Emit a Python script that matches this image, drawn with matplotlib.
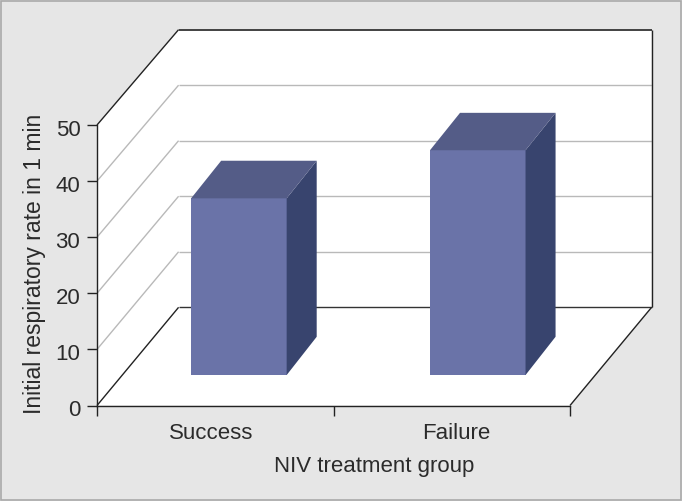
import matplotlib
matplotlib.use("Agg")
import matplotlib.pyplot as plt
from matplotlib.patches import Polygon, Rectangle
from matplotlib.transforms import ScaledTranslation

categories = ["Success", "Failure"]
values = [31.6, 40.2]
y_ticks = [0, 10, 20, 30, 40, 50]

# depth of the fake 3d box, in data units
wall_dx = 0.345
wall_dy = 17.5
wall_shrink = 0.01
bar_width = 0.404
bar_start = 0.31
bar_depth = 0.39
bar_depth_x = 0.127
bar_centers = [0.493, 1.503]
label_pos = [0.484, 1.518]

plt.rcParams['font.family'] = ['Liberation Sans', 'DejaVu Sans']
text_col = '#2b2b2b'
line_col = '#222222'
grid_col = '#b9b9b9'


def pt(x, y, d):
    return (x + d * wall_dx, y + d * wall_dy - y * d * wall_shrink)


def poly(ax, pts, col, z):
    ax.add_patch(Polygon(pts, closed=True, facecolor=col, edgecolor='none', clip_on=False, zorder=z))


def seg(ax, p1, p2, col, lw, z):
    ax.plot([p1[0], p2[0]], [p1[1], p2[1]], color=col, lw=lw, clip_on=False, zorder=z, solid_capstyle='butt')


fig = plt.figure(figsize=(6.82, 5.02), dpi=100, facecolor='#e6e6e6')
fig.add_artist(Rectangle((0.001, 0.002), 0.997, 0.994, transform=fig.transFigure,
                         facecolor='none', edgecolor='#a9a9a9', lw=1.2))

ax = fig.add_axes([97 / 682, 1 - 406.5 / 502, (570 - 97) / 682, (406.5 - 126) / 502])
ax.set_xlim(0, 2)
ax.set_ylim(0, 50)
ax.patch.set_alpha(0)

xmax = 2
ymax = 50
# floor and walls as one shape so no seam shows
poly(ax, [pt(0, 0, 0), pt(xmax, 0, 0), pt(xmax, 0, 1), pt(xmax, ymax, 1), pt(0, ymax, 1), pt(0, ymax, 0)], 'white', 1)

for v in y_ticks[1:-1]:
    seg(ax, pt(0, v, 0), pt(0, v, 1), grid_col, 1.0, 2)
    seg(ax, pt(0, v, 1), pt(xmax, v, 1), grid_col, 1.0, 2)

seg(ax, pt(0, 0, 0), pt(0, 0, 1), line_col, 1.0, 2)
seg(ax, pt(0, 0, 1), pt(xmax, 0, 1), '#333333', 1.0, 2)
seg(ax, pt(0, ymax, 0), pt(0, ymax, 1), line_col, 1.0, 2)
seg(ax, pt(0, ymax, 1), pt(xmax, ymax, 1), '#333333', 1.3, 2)
seg(ax, pt(xmax, 0, 1), pt(xmax, ymax, 1), line_col, 1.0, 2)
seg(ax, pt(xmax, 0, 0), pt(xmax, 0, 1), line_col, 1.0, 2)

# bars
for c, val in zip(bar_centers, values):
    x0 = c - bar_width / 2
    x1 = c + bar_width / 2
    d0 = bar_start
    d1 = bar_start + bar_depth
    # front corners, then the same corners pushed back
    fl, fr = pt(x0, 0, d0), pt(x1, 0, d0)
    tl, tr = pt(x0, val, d0), pt(x1, val, d0)
    back_bottom = (fr[0] + bar_depth_x, pt(x1, 0, d1)[1])
    back_tr = (tr[0] + bar_depth_x, pt(x1, val, d1)[1])
    back_tl = (tl[0] + bar_depth_x, pt(x0, val, d1)[1])
    poly(ax, [fl, fr, tr, tl], '#6a73a8', 4)
    poly(ax, [fr, back_bottom, back_tr, tr], '#38446e', 4)
    poly(ax, [tl, tr, back_tr, back_tl], '#545c87', 4)

ax.spines['top'].set_visible(False)
ax.spines['right'].set_visible(False)
for s in ['left', 'bottom']:
    ax.spines[s].set_linewidth(1.0)
    ax.spines[s].set_color(line_col)
    ax.spines[s].set_zorder(6)

ax.set_yticks(y_ticks)
ax.set_xticks([0, 1, 2])
ax.set_xticklabels([])
ax.set_xticks(label_pos, minor=True)
ax.set_xticklabels(categories, minor=True)
ax.tick_params(axis='x', which='major', length=7, width=1, color=line_col)
ax.tick_params(axis='x', which='minor', length=0, pad=12, labelsize=16, labelcolor=text_col)
ax.tick_params(axis='y', length=7, width=1, color=line_col, pad=5, labelsize=16, labelcolor=text_col)

# tick numbers sit a little below their ticks
down = ScaledTranslation(0, -2 / 100, fig.dpi_scale_trans)
for lab in ax.get_yticklabels():
    lab.set_transform(lab.get_transform() + down)

fig.text(374 / 682, 1 - 467 / 502, "NIV treatment group", ha='center', va='center', fontsize=16, color=text_col)
fig.text(35 / 682, 1 - 264 / 502, "Initial respiratory rate in 1 min", rotation=90, ha='center', va='center',
         fontsize=16.5, color=text_col)

fig.savefig("out.png", dpi=100, facecolor=fig.get_facecolor())
